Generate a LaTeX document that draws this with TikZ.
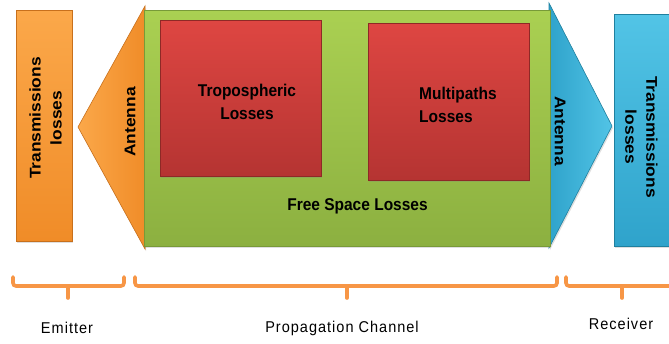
\documentclass[tikz,border=0pt]{standalone}
\usepackage{fontspec}
\usepackage{graphicx}
\setmainfont{Liberation Sans}
\newfontfamily\spacedfont[LetterSpace=7]{Liberation Sans}
\usetikzlibrary{shadows}

\definecolor{orgL}{HTML}{FBA84A}
\definecolor{orgD}{HTML}{F08C28}
\definecolor{orgE}{HTML}{C8701C}
\definecolor{grnL}{HTML}{AAD052}
\definecolor{grnD}{HTML}{8CB040}
\definecolor{grnE}{HTML}{789A38}
\definecolor{redL}{HTML}{DE4642}
\definecolor{redD}{HTML}{B53432}
\definecolor{redE}{HTML}{8E2926}
\definecolor{bluL}{HTML}{52C4E6}
\definecolor{bluD}{HTML}{2FA3CB}
\definecolor{bluE}{HTML}{1F809F}
\definecolor{braceC}{HTML}{F79646}

\tikzset{
  shade/.style={drop shadow={opacity=0.25, shadow xshift=1pt, shadow yshift=-2pt}},
  orangepanel/.style={shade, top color=orgL, bottom color=orgD, draw=orgE, line width=0.6pt},
  greenpanel/.style={shade, top color=grnL, bottom color=grnD, draw=grnE, line width=0.6pt},
  redpanel/.style={shade, top color=redL, bottom color=redD, draw=redE, line width=0.6pt},
  bluepanel/.style={shade, top color=bluL, bottom color=bluD, draw=bluE, line width=0.6pt},
  boxnode/.style={rectangle, inner sep=0pt, outer sep=0pt},
  boldtext/.style={font=\fontsize{15.5}{21}\selectfont\bfseries, text=black, inner sep=0pt},
  bracket/.style={draw=braceC, line width=3.6pt, rounded corners=3pt, line cap=round},
  sidelabel/.style={font=\spacedfont\fontsize{14.5}{17}\selectfont, text=black, inner sep=0pt}
}

\begin{document}
\begin{tikzpicture}[x=1pt, y=-1pt]
  \useasboundingbox (0,0) rectangle (669,343);
  \clip (0,0) rectangle (669,343);

  % emitter side: losses block and antenna
  \node[boxnode, orangepanel, minimum width=56pt, minimum height=231pt] (txloss) at (44,125.5) {};
  \coordinate (antLtop) at (145,6);
  \coordinate (antLbot) at (145,249);
  \coordinate (antLtip) at (78,127);
  \path[orangepanel, left color=orgL, right color=orgD] (antLtop) -- (antLtip) -- (antLbot) -- cycle;

  % receiver side: antenna and losses block
  \coordinate (antRtop) at (549,3);
  \coordinate (antRbot) at (549,248);
  \coordinate (antRtip) at (612,126);
  \path[bluepanel, left color=bluD, right color=bluL] (antRtop) -- (antRtip) -- (antRbot) -- cycle;
  \node[boxnode, bluepanel, minimum width=56pt, minimum height=232pt] (rxloss) at (642,130) {};

  % propagation channel
  \node[boxnode, greenpanel, minimum width=406pt, minimum height=236pt] (channel) at (347,128) {};
  \node[boxnode, redpanel, minimum width=161pt, minimum height=156pt] (tropo) at (240.5,98) {};
  \node[boxnode, redpanel, minimum width=161pt, minimum height=157pt] (multi) at (448.5,101.5) {};

  % labels inside the blocks
  \node[boldtext, align=center] (tropotxt) at (247,103) {\scalebox{1}[1.1]{\begin{tabular}{@{}c@{}}Tropospheric\\Losses\end{tabular}}};
  \node[boldtext, anchor=west] (multitxt) at (419,106) {\scalebox{1}[1.1]{\begin{tabular}{@{}l@{}}Multipaths\\Losses\end{tabular}}};
  \node[boldtext] (freetxt) at (357.5,206) {\scalebox{1}[1.1]{Free Space Losses}};
  \node[boldtext, rotate=90] (txlosstxt) at (47,118) {\scalebox{1.12}[1]{\begin{tabular}{@{}c@{}}Transmissions\\losses\end{tabular}}};
  \node[boldtext, rotate=90] (antLtxt) at (130,122) {\scalebox{1.12}[1]{Antenna}};
  \node[boldtext, rotate=-90] (antRtxt) at (560,131) {\scalebox{1.12}[1]{Antenna}};
  \node[boldtext, rotate=-90] (rxlosstxt) at (640,137) {\scalebox{1.12}[1]{\begin{tabular}{@{}c@{}}Transmissions\\losses\end{tabular}}};

  % brackets grouping the stages
  \coordinate (b1l) at (13,277);   \coordinate (b1r) at (124,277);  \coordinate (b1t) at (68,298);
  \coordinate (b2l) at (135,277);  \coordinate (b2r) at (557,277);  \coordinate (b2t) at (347,298);
  \coordinate (b3l) at (566,277);  \coordinate (b3r) at (690,277);  \coordinate (b3t) at (622,298);
  \draw[bracket] (b1l) -- ++(0,9) -| (b1r);
  \draw[bracket, rounded corners=0pt] (b1t) -- ++(0,-12);
  \draw[bracket] (b2l) -- ++(0,9) -| (b2r);
  \draw[bracket, rounded corners=0pt] (b2t) -- ++(0,-12);
  \draw[bracket] (b3l) -- ++(0,9) -| (b3r);
  \draw[bracket, rounded corners=0pt] (b3t) -- ++(0,-12);

  % stage names
  \node[sidelabel] (emitter) at (67,328) {\scalebox{1}[1.08]{Emitter}};
  \node[sidelabel] (propag) at (342,328) {\scalebox{1}[1.08]{Propagation Channel}};
  \node[sidelabel] (receiver) at (621,324) {\scalebox{1}[1.08]{Receiver}};
\end{tikzpicture}
\end{document}
